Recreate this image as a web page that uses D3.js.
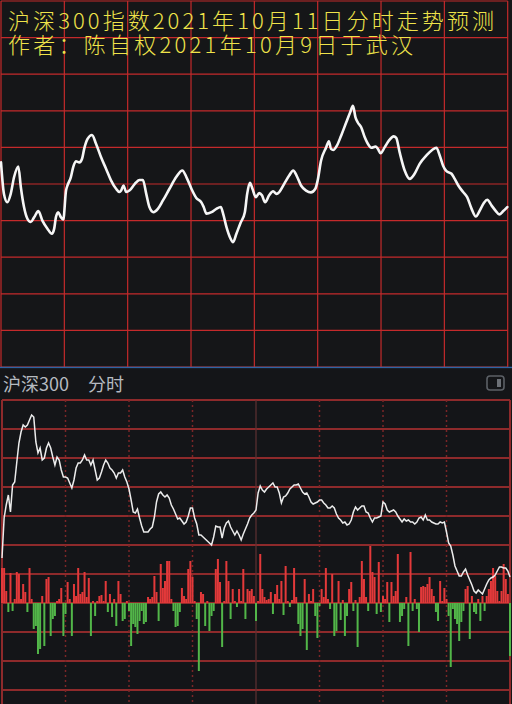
<!DOCTYPE html>
<html><head><meta charset="utf-8">
<script src="https://cdn.jsdelivr.net/npm/d3@7"></script>
<style>
html,body{margin:0;padding:0;background:#141518;}
svg{display:block;}
</style></head>
<body><svg id="c" width="512" height="704"></svg>
<script>
// ---------- data ----------
const titleLines = ["沪深300指数2021年10月11日分时走势预测", "作者：陈自权2021年10月9日于武汉"];
const panelLabel = "沪深300";
const panelPeriod = "分时";

// top chart: predicted curve (minute of session, value)
const predMinute = [0,1.4,3,4.6,6.2,8.2,9.4,10.9,12.5,14.1,15.7,17.7,19.6,22,24.1,25.2,26,27.1,28.4,29.5,
  30.8,31.5,33.1,34.2,35.5,37.1,38.4,39.4,41,43.1,45,47.4,49.8,52.1,54.5,56.1,56.9,58,59.3,60.8,
  63.2,65.6,67.2,68.8,70.3,72.2,74.3,76.7,79.8,83,85.9,87.8,90.2,92.5,94.9,96,97.3,99.7,102,104.1,
  105.2,106.8,108.7,109.9,111.5,113.4,115.5,116.6,117.9,119.1,120.7,
  122.3,123.6,125.1,127,128.9,130.5,131.8,134.2,136.5,138.4,140,142.1,144.5,146.8,148.9,150,151.6,154,155.3,
  156.3,157.4,159.1,161.1,163.5,165.4,166.7,167.9,169,170.6,172.2,174.3,175.4,177.4,178.5,179.8,181.7,183.8,186,187.2,
  188.8,191.2,193.6,195.9,198.3,201.5,204.2,206.2,207.8,209.4,211,213.4,214.9,216.6,218.9,220.8,222.9,224.9,226.8,228.7,
  230.3,232.4,234.4,236,237.9,239.8];
const predValue = [5.9,-2.7,-5.0,-2.7,1.9,4.8,-0.9,-6.3,-9.5,-10.4,-9.1,-7.4,-10.0,-12.2,-13.6,-12.2,-9.1,-7.7,-9.1,-9.7,
  -1.8,-0.4,1.9,4.6,6.2,5.9,6.9,9.6,12.3,13.4,11.0,7.3,4.1,1.0,-1.3,-2.2,-1.8,-0.4,-2.2,-1.8,
  -0.1,1.1,1.1,-2.7,-6.3,-7.7,-6.8,-4.5,-1.3,1.9,3.7,1.9,-1.3,-3.8,-5.0,-6.3,-8.1,-7.7,-6.8,-6.3,
  -8.1,-11.8,-14.9,-15.9,-13.6,-10.7,-7.7,-2.7,0.3,-1.3,-3.6,
  -2.5,-3.1,-5.0,-3.1,-2.0,-2.7,-2.2,0.1,2.3,3.7,2.3,-0.4,-1.8,-2.3,-1.3,1.0,6.4,10.0,11.7,
  9.6,9.3,10.5,13.2,16.8,19.6,21.4,18.2,16.8,15.5,12.9,10.5,9.9,10.2,9.6,8.4,10.0,11.9,13.0,12.6,
  8.7,3.7,1.4,2.8,5.5,7.8,9.3,9.9,7.8,5.0,3.5,2.8,1.4,-0.4,-2.2,-3.6,-6.8,-8.9,-7.2,-5.2,
  -4.3,-5.9,-7.4,-8.3,-7.4,-6.3];
const topMinuteTicks = [0,30,60,90,120,150,180,210,240];
const topValueTicks = [-50,-40,-30,-20,-10,0,10,20,30,40,50];

// bottom chart: actual minute data (change in points vs. reference, one per minute)
const priceChange = [-42,-2,11,21,4,31,34,54,73,84,91,89,91,96,101,99,74,63,68,56,
  58,68,73,68,59,51,59,56,46,39,39,38,33,28,36,48,53,53,56,61,
  56,56,51,56,46,36,38,44,51,56,53,48,46,43,38,43,43,46,39,34,
  27,16,4,3,7,-2,-10,-16,-16,-16,-13,-11,-1,14,22,24,21,19,21,18,
  11,7,2,-3,-2,-5,-8,-6,0,8,8,-2,-8,-19,-19,-21,-23,-25,-27,-29,
  -21,-10,-11,-11,-22,-12,-7,-5,-11,-15,-19,-15,-19,-24,-18,-13,-8,-2,1,3,
  6,23,30,26,24,27,29,31,33,29,29,23,13,19,20,23,27,29,31,31,
  32,28,24,22,23,19,14,12,13,14,16,16,13,11,8,8,10,8,2,-2,
  -4,-7,-6,-9,-8,-4,4,9,6,8,10,10,4,3,-2,-6,-2,-2,-1,0,
  14,12,6,4,5,6,4,0,-3,-6,-3,-5,-4,-6,-6,-8,-6,-2,-1,-4,
  1,-4,-4,-6,-7,-8,-8,-6,-7,-6,-16,-27,-30,-39,-50,-55,-60,-60,-56,-53,
  -59,-64,-69,-75,-77,-74,-76,-78,-73,-68,-64,-62,-61,-59,-55,-51,-51,-52,-52,-55,-61];
// signed volume: positive = red (up), negative = green (down)
const volume = [35,35,12,-9,30,-8,4,31,29,4,19,11,-9,35,4,-26,-23,-51,-46,7,
  -43,24,26,-33,-16,-13,2,4,15,-33,-11,21,4,-33,19,7,35,9,11,31,
  6,25,-33,2,-13,2,7,8,2,22,-9,9,-14,4,-23,22,9,-18,-16,2,
  -8,-43,-21,-24,-31,-18,-8,-21,-19,6,4,6,27,11,-18,39,15,22,42,42,
  4,-8,-24,-23,-9,15,7,4,34,42,26,2,-16,-68,11,9,-23,2,-28,-13,
  -8,34,44,21,-44,2,42,22,-16,14,2,-4,14,2,34,-16,14,12,14,7,
  -18,2,49,14,6,3,4,11,-11,9,18,4,22,-12,37,2,-4,3,35,6,
  -21,-33,-26,24,-47,9,2,14,-13,-35,-3,14,6,35,4,-6,29,-33,-28,22,
  -17,3,-33,-13,14,21,-8,3,-44,6,42,24,6,-8,57,31,26,-11,41,-9,
  7,4,21,-19,21,7,12,49,-19,-13,-6,6,-43,51,-8,4,-6,-29,16,17,
  16,19,26,14,7,-9,-18,22,2,15,4,-13,-64,-6,-16,-21,-38,-19,-8,14,
  17,-36,7,-9,-11,4,-18,7,-8,7,14,22,35,27,12,2,12,39,24,9,-53];
const bottomMinuteTicks = [30,60,90,150,180,210];
const priceTicks = [116,87,58,29,0,-29,-58];
const volumeTicks = [0,-29,-58,-87];

// ---------- drawing ----------
(function(){
const svg = d3.select("#c");

// top panel
const topG = svg.append("g");
topG.append("rect").attr("x",0).attr("y",0).attr("width",512).attr("height",367).attr("fill","#151618");
const xTop = d3.scaleLinear().domain([0,240]).range([1,507.7]);
const yTop = d3.scaleLinear().domain([-50,50]).range([367,1]);

topG.append("g").selectAll("line").data(topValueTicks).join("line")
  .attr("x1",xTop(0)).attr("x2",xTop(240))
  .attr("y1",d=>yTop(d)).attr("y2",d=>yTop(d))
  .attr("stroke","#c42a2b").attr("stroke-width",1.2);
topG.append("g").selectAll("line").data(topMinuteTicks).join("line")
  .attr("x1",d=>xTop(d)).attr("x2",d=>xTop(d))
  .attr("y1",yTop(50)).attr("y2",yTop(-50))
  .attr("stroke","#c42a2b").attr("stroke-width",1.2);

const predPts = predMinute.map((m,i)=>[m,predValue[i]]);
topG.append("path").datum(predPts)
  .attr("d", d3.line().x(d=>xTop(d[0])).y(d=>yTop(d[1])).curve(d3.curveMonotoneX))
  .attr("fill","none").attr("stroke","#f6f6f6").attr("stroke-width",2.6)
  .attr("stroke-linejoin","round").attr("stroke-linecap","round");

const tf = topG.append("g").attr("font-family","'Noto Sans CJK SC','Noto Sans CJK TC',sans-serif")
  .attr("font-size",22).attr("font-weight",300).attr("fill","#efe34a");
tf.append("text").attr("x",8).attr("y",29).attr("textLength",486).attr("lengthAdjust","spacing").text(titleLines[0]);
tf.append("text").attr("x",8).attr("y",53).attr("textLength",405).attr("lengthAdjust","spacing").text(titleLines[1]);

// separator
svg.append("line").attr("x1",0).attr("x2",512).attr("y1",367.5).attr("y2",367.5)
  .attr("stroke","#2e64a4").attr("stroke-width",1.6);

// bottom panel
const bot = svg.append("g");
bot.append("rect").attr("x",0).attr("y",368.5).attr("width",512).attr("height",336).attr("fill","#141518");

const hf = bot.append("g").attr("font-family","'Noto Sans CJK SC',sans-serif").attr("font-size",18).attr("fill","#b6bac0");
hf.append("text").attr("x",3).attr("y",391).text(panelLabel);
hf.append("text").attr("x",88).attr("y",391).text(panelPeriod);
bot.append("rect").attr("x",487).attr("y",376).attr("width",17).attr("height",14).attr("rx",3)
  .attr("fill","none").attr("stroke","#5c6066").attr("stroke-width",1.6);
bot.append("rect").attr("x",497).attr("y",379).attr("width",4).attr("height",8).attr("fill","#6c7076");

const xB = d3.scaleLinear().domain([0,240]).range([2,510]);
const yP = d3.scaleLinear().domain([-87,116]).range([603,400]);
const yV = d3.scaleLinear().domain([0,29]).range([603,574]);

const gridCol = "#8e2a2b";
bot.append("g").selectAll("line").data(priceTicks).join("line")
  .attr("x1",xB(0)).attr("x2",xB(240)).attr("y1",d=>yP(d)).attr("y2",d=>yP(d))
  .attr("stroke",gridCol).attr("stroke-width",2);
bot.append("g").selectAll("line").data(volumeTicks).join("line")
  .attr("x1",xB(0)).attr("x2",xB(240)).attr("y1",d=>yV(d)).attr("y2",d=>yV(d))
  .attr("stroke",gridCol).attr("stroke-width",2);
bot.append("g").selectAll("line").data(bottomMinuteTicks).join("line")
  .attr("x1",d=>xB(d)).attr("x2",d=>xB(d)).attr("y1",yP(116)).attr("y2",704)
  .attr("stroke","#7a2627").attr("stroke-width",1.5).attr("stroke-dasharray","2,3");
bot.append("line").attr("x1",xB(120)).attr("x2",xB(120)).attr("y1",yP(116)).attr("y2",704)
  .attr("stroke","#5e3133").attr("stroke-width",1.2);
bot.append("g").selectAll("line").data([0,240]).join("line")
  .attr("x1",d=>xB(d)).attr("x2",d=>xB(d)).attr("y1",yP(116)).attr("y2",704)
  .attr("stroke",gridCol).attr("stroke-width",2);

bot.append("g").selectAll("rect").data(volume).join("rect")
  .attr("x",(d,i)=>xB(i)-1).attr("width",2)
  .attr("y",d=>Math.min(yV(d),yV(0))).attr("height",d=>Math.abs(yV(d)-yV(0)))
  .attr("fill",d=>d>=0?"#e3393a":"#52b649");

bot.append("path").datum(priceChange)
  .attr("d", d3.line().x((d,i)=>xB(i)).y(d=>yP(d)))
  .attr("fill","none").attr("stroke","#ececec").attr("stroke-width",1.5);
})();
</script>
</body></html>
